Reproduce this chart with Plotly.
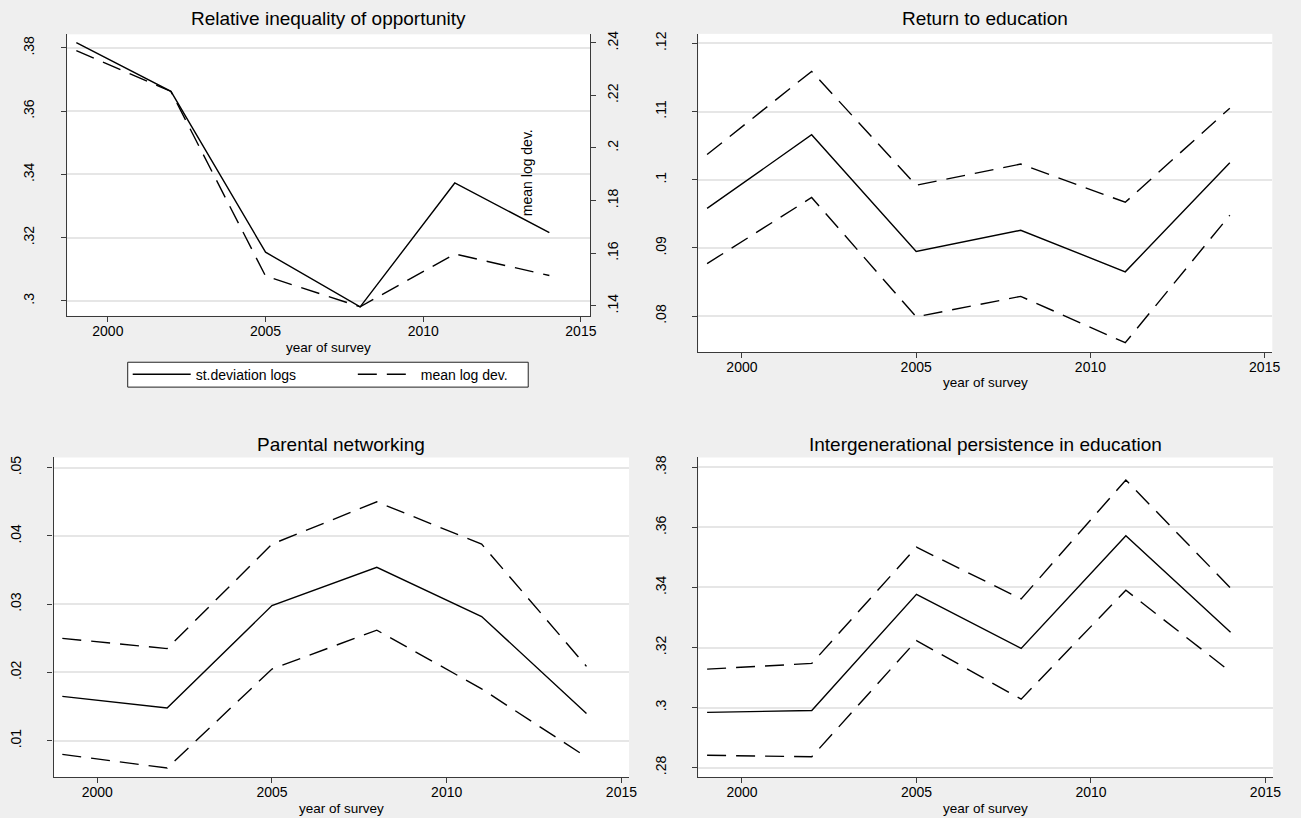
import plotly.graph_objects as go

FONT = "Liberation Sans, Arial, sans-serif"

years = [1999, 2002, 2005, 2008, 2011, 2014]

# Relative inequality of opportunity (left axis: st. deviation of logs, right axis: mean log deviation)
sd_logs = [0.3817, 0.3663, 0.3154, 0.2981, 0.3373, 0.3216]
mean_log_dev = [0.2370, 0.2215, 0.1513, 0.1396, 0.1597, 0.1515]

# Return to education: estimate with upper / lower bounds
ret_edu = [0.0958, 0.1066, 0.0895, 0.0926, 0.0865, 0.1025]
ret_edu_hi = [0.1037, 0.1159, 0.0992, 0.1023, 0.0967, 0.1105]
ret_edu_lo = [0.0877, 0.0974, 0.0799, 0.0829, 0.0761, 0.0948]

# Parental networking
net = [0.0165, 0.0148, 0.0298, 0.0354, 0.0282, 0.0140]
net_hi = [0.0250, 0.0235, 0.0388, 0.0450, 0.0388, 0.0209]
net_lo = [0.0080, 0.0060, 0.0205, 0.0262, 0.0176, 0.0076]

# Intergenerational persistence in education
pers = [0.2984, 0.2990, 0.3377, 0.3197, 0.3572, 0.3251]
pers_hi = [0.3128, 0.3147, 0.3534, 0.3362, 0.3758, 0.3398]
pers_lo = [0.2841, 0.2836, 0.3223, 0.3028, 0.3391, 0.3119]

# Tick labels
x_ticks = [2000, 2005, 2010, 2015]
y1_ticks = [0.30, 0.32, 0.34, 0.36, 0.38]
y1_text = [".3", ".32", ".34", ".36", ".38"]
y1r_ticks = [0.14, 0.16, 0.18, 0.20, 0.22, 0.24]
y1r_text = [".14", ".16", ".18", ".2", ".22", ".24"]
y2_ticks = [0.08, 0.09, 0.10, 0.11, 0.12]
y2_text = [".08", ".09", ".1", ".11", ".12"]
y3_ticks = [0.01, 0.02, 0.03, 0.04, 0.05]
y3_text = [".01", ".02", ".03", ".04", ".05"]
y4_ticks = [0.28, 0.30, 0.32, 0.34, 0.36, 0.38]
y4_text = [".28", ".3", ".32", ".34", ".36", ".38"]

titles = ["Relative inequality of opportunity", "Return to education",
          "Parental networking", "Intergenerational persistence in education"]

W, H = 1301, 818
LINE_W = 1.4
DASH = "19px,10px"
AXIS_COLOR = "#3a3a3a"


def px_x(p):
    return p / W


def px_y(p):
    return 1 - p / H


fig = go.Figure()


def solid(x, y, xa, ya, name, legend=None):
    fig.add_trace(go.Scatter(x=x, y=y, xaxis=xa, yaxis=ya, mode="lines", name=name,
                             showlegend=legend is not None, legend=legend or "legend",
                             hoverinfo="skip", line=dict(color="black", width=LINE_W)))


def dashed(x, y, xa, ya, name, legend=None):
    fig.add_trace(go.Scatter(x=x, y=y, xaxis=xa, yaxis=ya, mode="lines", name=name,
                             showlegend=legend is not None, legend=legend or "legend",
                             hoverinfo="skip",
                             line=dict(color="black", width=LINE_W, dash=DASH)))


solid(years, sd_logs, "x", "y", "st.deviation logs", legend="legend")
dashed(years, mean_log_dev, "x", "y2", "mean log dev.", legend="legend2")

solid(years, ret_edu, "x2", "y3", "return")
dashed(years, ret_edu_hi, "x2", "y3", "upper")
dashed(years, ret_edu_lo, "x2", "y3", "lower")

solid(years, net, "x3", "y4", "networking")
dashed(years, net_hi, "x3", "y4", "upper")
dashed(years, net_lo, "x3", "y4", "lower")

solid(years, pers, "x4", "y5", "persistence")
dashed(years, pers_hi, "x4", "y5", "upper")
dashed(years, pers_lo, "x4", "y5", "lower")

tickfont = dict(family=FONT, size=14, color="black")


def xaxis(domain, anchor, rng):
    return dict(domain=domain, anchor=anchor, range=rng, tickvals=x_ticks,
                showline=True, linecolor=AXIS_COLOR, linewidth=1.3, ticks="outside",
                ticklen=5, tickcolor=AXIS_COLOR, tickwidth=1, showgrid=False,
                zeroline=False, tickfont=tickfont, ticklabelstandoff=-3, fixedrange=True)


def yaxis(domain, anchor, rng, vals, text, **kw):
    d = dict(domain=domain, anchor=anchor, range=rng, tickvals=vals, ticktext=text,
             showline=True, linecolor=AXIS_COLOR, linewidth=1.3, ticks="outside",
             ticklen=5, tickcolor=AXIS_COLOR, tickwidth=1, showgrid=True,
             gridcolor="#e6e6e6", gridwidth=1.5, zeroline=False, tickangle=-90,
             tickfont=tickfont, ticklabelstandoff=21, fixedrange=True)
    d.update(kw)
    return d


# Plot-area rectangles in pixels (left, right, top, bottom)
p1 = (67.6, 593.7, 30.5, 313.3)
p2 = (702.7, 1280.2, 30.0, 350.0)
p3 = (53.9, 633.0, 455.7, 776.7)
p4 = (702.7, 1281.0, 455.7, 776.7)


def xdom(p):
    return [px_x(p[0]), px_x(p[1])]


def ydom(p):
    return [px_y(p[3]), px_y(p[2])]


legend_style = dict(orientation="h", yanchor="middle", xanchor="left",
                    bgcolor="rgba(0,0,0,0)", borderwidth=0,
                    font=dict(family=FONT, size=14, color="black"),
                    itemwidth=58, itemclick=False, itemdoubleclick=False)

fig.update_layout(
    width=W, height=H,
    margin=dict(l=0, r=0, t=0, b=0),
    paper_bgcolor="#efefef",
    plot_bgcolor="white",
    font=dict(family=FONT, size=14, color="black"),
    xaxis=xaxis(xdom(p1), "y", [1998.71, 2015.29]),
    yaxis=yaxis(ydom(p1), "x", [0.2953, 0.3843], y1_ticks, y1_text),
    yaxis2=yaxis(ydom(p1), "x", [0.1362, 0.2432], y1r_ticks, y1r_text,
                 overlaying="y", side="right", showgrid=False, ticklabelstandoff=5),
    xaxis2=xaxis(xdom(p2), "y3", [1998.75, 2015.22]),
    yaxis3=yaxis(ydom(p2), "x2", [0.0747, 0.1214], y2_ticks, y2_text),
    xaxis3=xaxis(xdom(p3), "y4", [1998.75, 2015.22]),
    yaxis4=yaxis(ydom(p3), "x3", [0.0047, 0.0515], y3_ticks, y3_text),
    xaxis4=xaxis(xdom(p4), "y5", [1998.75, 2015.22]),
    yaxis5=yaxis(ydom(p4), "x4", [0.2769, 0.3833], y4_ticks, y4_text),
    legend=dict(x=px_x(128.5), y=px_y(372.5), **legend_style),
    legend2=dict(x=px_x(355.0), y=px_y(372.5), **legend_style),
    shapes=[dict(type="rect", xref="paper", yref="paper",
                 x0=px_x(128.5), x1=px_x(531.5), y0=px_y(385), y1=px_y(360),
                 fillcolor="white", line=dict(color="#222222", width=1), layer="below")],
)

annotations = []
# Panel titles
for p, t, ty in [(p1, titles[0], 15), (p2, titles[1], 15), (p3, titles[2], 443), (p4, titles[3], 443)]:
    annotations.append(dict(text=t, xref="paper", yref="paper", x=px_x((p[0] + p[1]) / 2),
                            y=px_y(ty), xanchor="center", yanchor="middle", showarrow=False,
                            font=dict(family=FONT, size=19, color="black")))
# x-axis titles
for p, ty in [(p1, 345), (p2, 380), (p3, 808), (p4, 808)]:
    annotations.append(dict(text="year of survey", xref="paper", yref="paper",
                            x=px_x((p[0] + p[1]) / 2), y=px_y(ty), xanchor="center",
                            yanchor="middle", showarrow=False,
                            font=dict(family=FONT, size=13.5, color="black")))
# Label for the mean log deviation series
annotations.append(dict(text="mean log dev.", xref="x", yref="y", x=2013.3, y=0.3405,
                        textangle=-90, showarrow=False, xanchor="center", yanchor="middle",
                        font=dict(family=FONT, size=14, color="black")))
fig.update_layout(annotations=annotations)

fig.write_html("out.html")
